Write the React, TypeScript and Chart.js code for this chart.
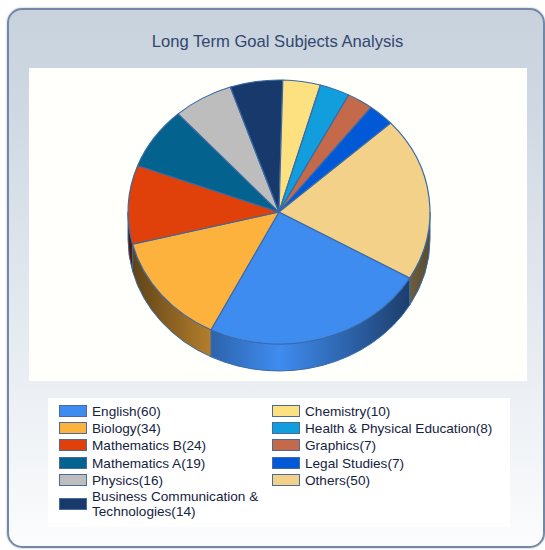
import React, { useEffect, useRef } from "react";
import { Chart, registerables } from "chart.js";

Chart.register(...registerables);

const titleText = "Long Term Goal Subjects Analysis";
const categories = ["English", "Biology", "Mathematics B", "Mathematics A", "Physics", "Business Communication & Technologies", "Chemistry", "Health & Physical Education", "Graphics", "Legal Studies", "Others"];
const values = [60, 34, 24, 19, 16, 14, 10, 8, 7, 7, 50];
const colors = ["#3f8cf0", "#fdb23e", "#e0400a", "#04628f", "#bdbdbd", "#17396b", "#fde07f", "#129ddd", "#c46a4a", "#0259d8", "#f3d188"];
const legendOrder = [[0, 1, 2, 3, 4, 5], [6, 7, 8, 9, 10]];

const DEPTH = 27;
const SQUASH = 0.874;
const TOP_CY = 144;

function shade(hex: string, f: number) {
  const n = parseInt(hex.slice(1), 16);
  const r = Math.round(((n >> 16) & 255) * f);
  const g = Math.round(((n >> 8) & 255) * f);
  const b = Math.round((n & 255) * f);
  return `rgb(${r},${g},${b})`;
}

const pie3d = {
  id: "pie3d",
  beforeDatasetsDraw(chart: any) {
    const { ctx } = chart;
    const arcs = chart.getDatasetMeta(0).data;
    const cx = arcs[0].x;
    const cy = arcs[0].y;
    const R = arcs[0].outerRadius;
    const ry = R * SQUASH;
    const norm = (a: number) => {
      let v = a % (Math.PI * 2);
      if (v < 0) v += Math.PI * 2;
      return v;
    };
    arcs.forEach((arc: any, i: number) => {
      const segs: [number, number][] = [];
      const s = norm(arc.startAngle);
      const e = s + (arc.endAngle - arc.startAngle);
      const pushSeg = (a: number, b: number) => {
        const lo = Math.max(a, 0);
        const hi = Math.min(b, Math.PI);
        if (hi > lo) segs.push([lo, hi]);
      };
      pushSeg(s, e);
      pushSeg(s - Math.PI * 2, e - Math.PI * 2);
      segs.forEach(([a, b]) => {
        const g = ctx.createLinearGradient(cx - R, 0, cx + R, 0);
        g.addColorStop(0, shade(colors[i], 0.36));
        g.addColorStop(0.5, shade(colors[i], 1));
        g.addColorStop(1, shade(colors[i], 0.36));
        ctx.save();
        ctx.beginPath();
        ctx.ellipse(cx, TOP_CY, R, ry, 0, a, b);
        ctx.ellipse(cx, TOP_CY + DEPTH, R, ry, 0, b, a, true);
        ctx.closePath();
        ctx.fillStyle = g;
        ctx.fill();
        ctx.lineWidth = 1;
        ctx.strokeStyle = "#3a6aa5";
        ctx.stroke();
        ctx.restore();
      });
    });
    ctx.save();
    ctx.translate(cx, TOP_CY);
    ctx.scale(1, SQUASH);
    ctx.translate(-cx, -cy);
  },
  afterDatasetsDraw(chart: any) {
    chart.ctx.restore();
  },
};

export default function App() {
  const ref = useRef<HTMLCanvasElement>(null);
  useEffect(() => {
    document.body.style.margin = "0";
    const chart = new Chart(ref.current!, {
      type: "pie",
      data: {
        labels: categories,
        datasets: [{
          data: values,
          backgroundColor: colors,
          borderColor: "#3a6aa5",
          borderWidth: 1.2,
          borderAlign: "center",
          radius: 151,
          clip: false,
        } as any],
      },
      options: {
        animation: false,
        responsive: false,
        rotation: 120,
        events: [],
        layout: { padding: { left: 2, right: 0, top: 0, bottom: 0 } },
        plugins: { legend: { display: false }, tooltip: { enabled: false }, title: { display: false } },
      },
      plugins: [pie3d],
    } as any);
    return () => chart.destroy();
  }, []);

  const font = '"Liberation Sans", Arial, sans-serif';
  const rowTops = [404, 421, 438, 456, 473, 490];
  return (
    <div style={{ position: "relative", width: 545, height: 550, background: "#fff", overflow: "hidden", fontFamily: font }}>
      <div style={{ position: "absolute", left: 7, top: 8, width: 538, height: 540, boxSizing: "border-box", border: "2px solid #7488a6", borderRadius: 15, boxShadow: "0 0 2px rgba(110,130,165,0.7)", background: "linear-gradient(#c7d2dd 0%, #d0d9e3 20%, #ebeff3 70%, #fbfcfd 100%)" }} />
      <div style={{ position: "absolute", left: 7, width: 541, top: 32, textAlign: "center", fontSize: 16.6, color: "#33466e" }}>{titleText}</div>
      <div style={{ position: "absolute", left: 29, top: 68, width: 498, height: 313, background: "#fffffb" }}>
        <canvas ref={ref} width={498} height={313} style={{ display: "block" }} />
      </div>
      <div style={{ position: "absolute", left: 48, top: 398, width: 462, height: 129, background: "#ffffff" }} />
      {legendOrder.map((col, c) =>
        col.map((idx, r) => {
          const x = c === 0 ? 59 : 272;
          const wrapped = categories[idx].length > 30;
          const top = wrapped ? 489 : rowTops[r];
          return (
            <React.Fragment key={idx}>
              <div style={{ position: "absolute", left: x, top: wrapped ? 498 : top + 1, width: 28, height: 12, boxSizing: "border-box", border: "1px solid #4a6a9a", background: colors[idx] }} />
              <div style={{ position: "absolute", left: x + 33, top, width: c === 0 ? 176 : 216, fontSize: 13.6, lineHeight: "15px", color: "#16233f" }}>
                {`${categories[idx]}(${values[idx]})`}
              </div>
            </React.Fragment>
          );
        })
      )}
    </div>
  );
}
